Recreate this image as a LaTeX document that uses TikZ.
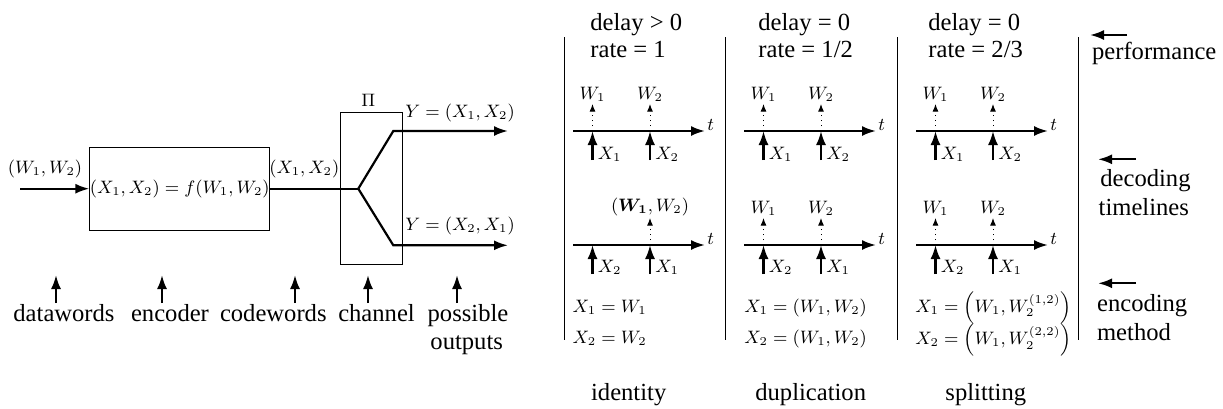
\documentclass[tikz,border=0pt]{standalone}
\usepackage{amsmath}
\usepackage[no-math]{fontspec}
\setmainfont{Liberation Serif}
\usetikzlibrary{arrows.meta}
\begin{document}
\begin{tikzpicture}[x=0.5pt,y=-0.5pt,
  font=\fontsize{12.3}{14}\selectfont,
  ml/.style={font=\fontsize{9}{11}\selectfont, inner sep=0pt},
  tl/.style={font=\fontsize{12.3}{14}\selectfont, inner sep=0pt},
  box/.style={draw, line width=0.5pt, inner sep=0pt},
  arr/.style={line width=1.1pt, -{Latex[length=7pt,width=5pt]}},
  dotarr/.style={line width=0.5pt, dotted, -{Latex[length=3.8pt,width=3pt]}},
  wire/.style={line width=1.1pt},
  sepline/.style={line width=0.5pt}]
\useasboundingbox (0,0) rectangle (1223,408);

% ---------- left block diagram ----------
\coordinate (in) at (20,188.7);
\node[box, minimum width=88pt, minimum height=41.3pt, font=\fontsize{9}{11}\selectfont] (enc) at (179.7,188.7) {$(X_1,X_2)=f(W_1,W_2)$};
\draw[arr] (in) -- (enc.west);
\node[ml] (wlbl) at (45,169) {$(W_1,W_2)$};
\node[box, minimum width=31.3pt, minimum height=75.8pt] (chan) at (371.3,188.2) {};
\node[ml] (pi) at (368.3,100.5) {$\Pi$};
\coordinate (split) at (358.3,188.7);
\draw[wire] (enc.east) -- (split);
\node[ml] (xlbl) at (304.3,168.5) {$(X_1,X_2)$};
\coordinate (up) at (393.3,131);
\coordinate (dn) at (393.3,245.3);
\coordinate (outA) at (508,131);
\coordinate (outB) at (508,245.3);
\draw[arr] (split) -- (up) -- (outA);
\draw[arr] (split) -- (dn) -- (outB);
\node[ml, anchor=west] (ya) at (405,113) {$Y=(X_1,X_2)$};
\node[ml, anchor=west] (yb) at (405,225.5) {$Y=(X_2,X_1)$};

% bottom pointers
\foreach \x/\n in {56/a,162/b,295/c,368/d,457/e}{
  \coordinate (pb\n) at (\x,303);
  \coordinate (pt\n) at (\x,275);
  \draw[arr] (pb\n) -- (pt\n);
}
\node[tl, anchor=base] (ldata) at (64,321.7) {datawords};
\node[tl, anchor=base] (lenc) at (170,321.7) {encoder};
\node[tl, anchor=base] (lcode) at (273.3,321.7) {codewords};
\node[tl, anchor=base] (lchan) at (376.5,321.7) {channel};
\node[tl, anchor=base] (lposs) at (468,321.7) {possible};
\node[tl, anchor=base] (lout) at (466.7,349.3) {outputs};

% ---------- panels ----------
\foreach \x/\n in {564.3/1,725.7/2,897.7/3,1078.3/4}{
  \coordinate (vt\n) at (\x,37);
  \coordinate (vb\n) at (\x,340);
  \draw[sepline] (vt\n) -- (vb\n);
}
\node[tl, anchor=base west] (h1a) at (590,30.7) {delay > 0};
\node[tl, anchor=base west] (h1b) at (590,57.3) {rate = 1};
\node[tl, anchor=base west] (h2a) at (758,30.7) {delay = 0};
\node[tl, anchor=base west] (h2b) at (758,57.3) {rate = 1/2};
\node[tl, anchor=base west] (h3a) at (928,30.7) {delay = 0};
\node[tl, anchor=base west] (h3b) at (928,57.3) {rate = 2/3};

% timelines
\foreach \p/\s in {1/573,2/744,3/916}{
  % top row
  \coordinate (ts\p) at (\s,131);
  \coordinate (te\p) at (\s+132,131);
  \draw[arr] (ts\p) -- (te\p);
  \node[ml, anchor=west] (tt\p) at (\s+134,125) {$t$};
  \coordinate (tka\p) at (\s+19.5,131);
  \coordinate (tkb\p) at (\s+77,131);
  \coordinate (tba\p) at (\s+19.5,160);
  \coordinate (tbb\p) at (\s+77,160);
  \coordinate (tda\p) at (\s+19.5,104);
  \coordinate (tdb\p) at (\s+77,104);
  \draw[arr] (tba\p) -- (tka\p);
  \draw[arr] (tbb\p) -- (tkb\p);
  \draw[dotarr] (tka\p) -- (tda\p);
  \draw[dotarr] (tkb\p) -- (tdb\p);
  \node[ml] (twa\p) at (\s+19.5,94.5) {$W_1$};
  \node[ml] (twb\p) at (\s+77,94.5) {$W_2$};
  \node[ml, anchor=west] (txa\p) at (\s+24.5,154) {$X_1$};
  \node[ml, anchor=west] (txb\p) at (\s+82,154) {$X_2$};
  % bottom row
  \coordinate (bs\p) at (\s,245);
  \coordinate (be\p) at (\s+132,245);
  \draw[arr] (bs\p) -- (be\p);
  \node[ml, anchor=west] (bt\p) at (\s+134,239) {$t$};
  \coordinate (bka\p) at (\s+19.5,245);
  \coordinate (bkb\p) at (\s+77,245);
  \coordinate (bba\p) at (\s+19.5,274);
  \coordinate (bbb\p) at (\s+77,274);
  \coordinate (bda\p) at (\s+19.5,218);
  \coordinate (bdb\p) at (\s+77,218);
  \draw[arr] (bba\p) -- (bka\p);
  \draw[arr] (bbb\p) -- (bkb\p);
  \draw[dotarr] (bkb\p) -- (bdb\p);
  \node[ml, anchor=west] (bxa\p) at (\s+24.5,267) {$X_2$};
  \node[ml, anchor=west] (bxb\p) at (\s+82,267) {$X_1$};
}
\node[ml] (bw1) at (650,206.7) {$(\boldsymbol{W_1},W_2)$};
\draw[dotarr] (bka2) -- (bda2);
\draw[dotarr] (bka3) -- (bda3);
\node[ml] (bwa2) at (763.5,208.5) {$W_1$};
\node[ml] (bwb2) at (821,208.5) {$W_2$};
\node[ml] (bwa3) at (935.5,208.5) {$W_1$};
\node[ml] (bwb3) at (993,208.5) {$W_2$};

% encoding methods
\node[ml, anchor=base west] (e1a) at (572.3,312) {$X_1=W_1$};
\node[ml, anchor=base west] (e1b) at (572.3,343) {$X_2=W_2$};
\node[ml, anchor=base west] (e2a) at (744,312) {$X_1=(W_1,W_2)$};
\node[ml, anchor=base west] (e2b) at (744,343) {$X_2=(W_1,W_2)$};
\node[ml] (e3) at (993.5,324) {$\begin{aligned}X_1&=\left(W_1,W_2^{(1,2)}\right)\\[-4pt] X_2&=\left(W_1,W_2^{(2,2)}\right)\end{aligned}$};

\node[tl, anchor=base] (lid) at (628.7,400) {identity};
\node[tl, anchor=base] (ldup) at (810.7,400) {duplication};
\node[tl, anchor=base] (lspl) at (985.8,400) {splitting};

% right side
\coordinate (ra1) at (1127,35);
\coordinate (rb1) at (1090,35);
\draw[arr] (ra1) -- (rb1);
\coordinate (ra2) at (1136,159.3);
\coordinate (rb2) at (1098,159.3);
\draw[arr] (ra2) -- (rb2);
\coordinate (ra3) at (1136,283.3);
\coordinate (rb3) at (1098,283.3);
\draw[arr] (ra3) -- (rb3);
\node[tl, anchor=base west] (rperf) at (1091.7,59.3) {performance};
\node[tl, anchor=base west] (rdec) at (1100,186.7) {decoding};
\node[tl, anchor=base west] (rtim) at (1098.3,215) {timelines};
\node[tl, anchor=base west] (renc) at (1096.7,311.7) {encoding};
\node[tl, anchor=base west] (rmet) at (1096.7,340.7) {method};
\end{tikzpicture}
\end{document}
